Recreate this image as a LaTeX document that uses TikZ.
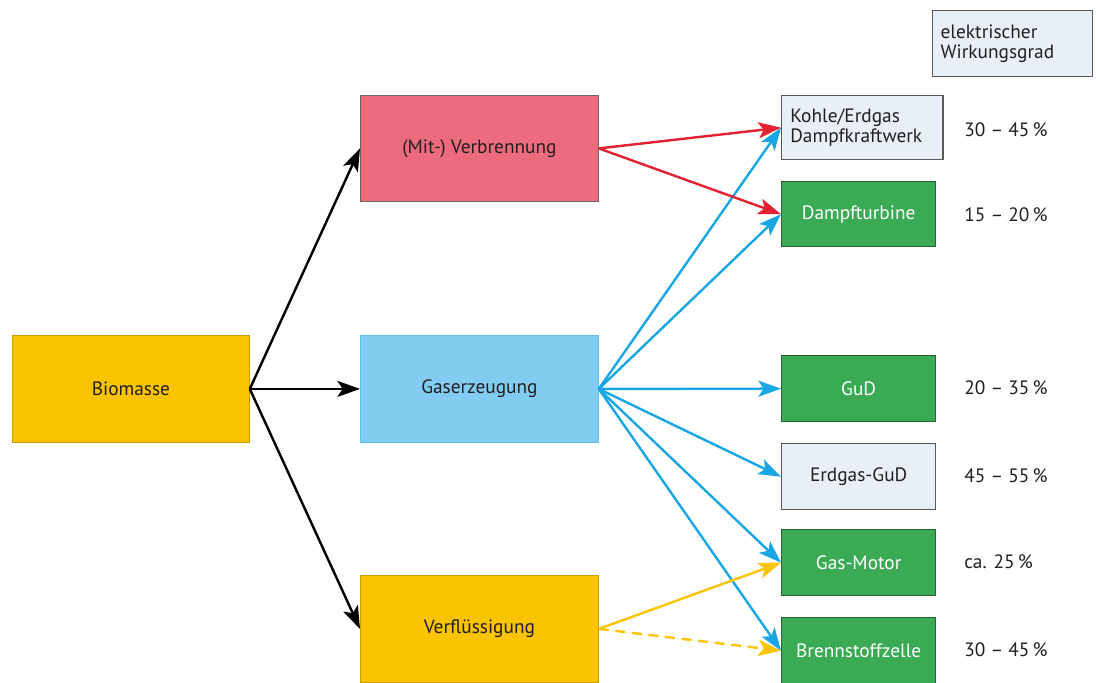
\documentclass[tikz,border=0pt]{standalone}
\usepackage{fontspec}
\setmainfont{PT Sans}
\usetikzlibrary{arrows.meta}
\definecolor{cYel}{HTML}{FBC400}
\definecolor{cPink}{HTML}{EC6B7C}
\definecolor{cLBlue}{HTML}{82CCF2}
\definecolor{cGreen}{HTML}{3AAA54}
\definecolor{cLight}{HTML}{E8EFF7}
\definecolor{cRed}{HTML}{E42130}
\definecolor{cBlue}{HTML}{19A6E4}
\definecolor{cText}{HTML}{231F20}
\tikzset{
  bigbox/.style={anchor=north west, minimum width=178.5pt, minimum height=80.25pt, inner sep=0pt, font=\fontsize{14.5}{17}\selectfont, text=cText, line width=0.6pt},
  smallbox/.style={anchor=north west, minimum width=115.5pt, minimum height=49.5pt, inner sep=0pt, font=\fontsize{14.5}{17}\selectfont, line width=1pt},
  greenbox/.style={smallbox, fill=cGreen, draw=cGreen!60!black, text=white},
  lightbox/.style={smallbox, fill=cLight, draw=black!65, text=cText},
  pct/.style={anchor=west, inner sep=0pt, font=\fontsize{14.5}{17}\selectfont, text=cText},
  arr/.style={line width=1.8pt, -{Stealth[length=17pt, width=12pt, inset=4pt]}},
  blkarr/.style={arr, draw=black, fill=black},
  redarr/.style={arr, draw=cRed, fill=cRed},
  bluarr/.style={arr, draw=cBlue, fill=cBlue},
  yelarr/.style={arr, draw=cYel, fill=cYel},
}
\begin{document}
\begin{tikzpicture}[x=0.75pt, y=-0.75pt]
\useasboundingbox (0,0) rectangle (1096,682);
\begin{scope}
\clip (0,0) rectangle (1096,682);
\node[bigbox, fill=cYel, draw=cYel!80!black, minimum width=177.75pt] (bio) at (12,335) {Biomasse};
\node[bigbox, fill=cPink, draw=black!60, minimum height=79.5pt] (verb) at (360,95) {(Mit-) Verbrennung};
\node[bigbox, fill=cLBlue, draw=cBlue!70] (gas) at (360,335) {Gaserzeugung};
\node[bigbox, fill=cYel, draw=cYel!80!black] (fl) at (360,575) {Verflüssigung};

\node[lightbox, align=left, text width=108pt, inner xsep=6.5pt, minimum height=48pt] (kohle) at (781,95) {Kohle/Erdgas\\[-2pt]Dampfkraftwerk};
\node[greenbox, minimum height=48.75pt] (dampf) at (781,181) {Dampfturbine};
\node[greenbox] (gud) at (781,355) {GuD};
\node[lightbox] (egud) at (781,443) {Erdgas-GuD};
\node[greenbox] (motor) at (781,529) {Gas-Motor};
\node[greenbox] (bz) at (781,617) {Brennstoffzelle};
\node[lightbox, align=left, text width=108pt, inner xsep=6pt, minimum width=118.5pt] (leg) at (932,10) {elektrischer\\[-2pt]Wirkungsgrad};

\node[pct] (p1) at (964,130) {30 -- 45\,\%};
\node[pct] (p2) at (964,215) {15 -- 20\,\%};
\node[pct] (p3) at (964,388) {20 -- 35\,\%};
\node[pct] (p4) at (964,476) {45 -- 55\,\%};
\node[pct] (p5) at (964,562) {ca. 25\,\%};
\node[pct] (p6) at (964,650) {30 -- 45\,\%};

\draw[blkarr] (bio.east) -- (verb.west);
\draw[blkarr] (bio.east) -- (gas.west);
\draw[blkarr] (bio.east) -- (fl.west);

\draw[bluarr] (gas.east) -- (kohle.west);
\draw[bluarr] (gas.east) -- (dampf.west);
\draw[bluarr] (gas.east) -- (gud.west);
\draw[bluarr] (gas.east) -- (egud.west);
\draw[bluarr] (gas.east) -- (motor.west);
\draw[bluarr] (gas.east) -- (bz.west);

\draw[redarr] (verb.east) -- (kohle.west);
\draw[redarr] (verb.east) -- (dampf.west);

\draw[yelarr] (fl.east) -- (motor.west);
\draw[yelarr, dash pattern=on 7.5pt off 5pt] (fl.east) -- (bz.west);
\end{scope}
\end{tikzpicture}
\end{document}
